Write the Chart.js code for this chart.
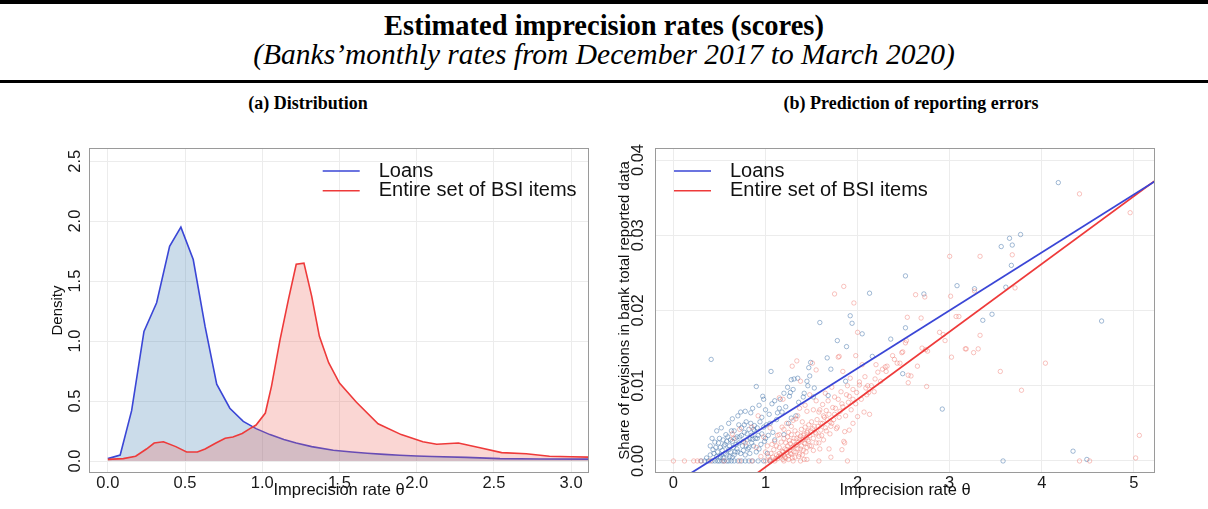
<!DOCTYPE html>
<html>
<head>
<meta charset="utf-8">
<title>Estimated imprecision rates (scores)</title>
<script src="https://cdn.jsdelivr.net/npm/chart.js@4.4.1/dist/chart.umd.min.js"></script>
<style>
  html, body { margin: 0; padding: 0; background: #fff; }
  body { width: 1208px; height: 509px; position: relative; overflow: hidden; font-family: 'Liberation Serif', 'Times New Roman', serif; color: #000; }
  .rule { position: absolute; left: 0; width: 1208px; background: #000; }
  .head { position: absolute; left: 0; width: 1208px; text-align: center; white-space: nowrap; line-height: 1; }
  .head.main { top: 12px; font-size: 28.5px; font-weight: bold; }
  .head.sub  { top: 40px; font-size: 29.5px; font-style: italic; }
  .panel-title { position: absolute; top: 94px; font-size: 18px; font-weight: bold; line-height: 1; white-space: nowrap; transform: translateX(-50%); }
  .chart-box { position: absolute; top: 120px; }
  .chart-box canvas { display: block; }
</style>
</head>
<body>
  <div class="rule" style="top:0; height:4px;"></div>
  <div class="head main">Estimated imprecision rates (scores)</div>
  <div class="head sub">(Banks’monthly rates from December 2017 to March 2020)</div>
  <div class="rule" style="top:80px; height:3px;"></div>

  <div class="panel-title" style="left:308px;">(a) Distribution</div>
  <div class="panel-title" style="left:911px;">(b) Prediction of reporting errors</div>

  <div class="chart-box" style="left:0; width:600px; height:389px;"><canvas id="density-chart" width="600" height="389"></canvas></div>
  <div class="chart-box" style="left:600px; width:608px; height:389px;"><canvas id="predict-chart" width="608" height="389"></canvas></div>

<script>
/* ═══════════════════════════════════════════════════════════════
   Estimated imprecision rates — density + prediction panels
   ═══════════════════════════════════════════════════════════════ */

// ── DATA ──────────────────────────────────────────────────────────
const seriesNames = ['Loans', 'Entire set of BSI items'];

// (a) density curves, theta vs density
const densTicksX = [0, 0.5, 1, 1.5, 2, 2.5, 3];
const densTicksY = [0, 0.5, 1, 1.5, 2, 2.5];
const loansDensX = [0.00, 0.08, 0.154, 0.234, 0.316, 0.40, 0.473, 0.553, 0.63, 0.705, 0.79, 0.877, 0.96, 1.05, 1.14, 1.22, 1.32, 1.46, 1.58, 1.68, 1.79, 1.89, 2.0, 2.1, 2.32, 2.54, 2.8, 3.2];
const loansDensY = [0.02, 0.05, 0.42, 1.08, 1.32, 1.79, 1.95, 1.68, 1.12, 0.64, 0.44, 0.33, 0.27, 0.22, 0.18, 0.15, 0.12, 0.09, 0.075, 0.065, 0.055, 0.048, 0.042, 0.038, 0.03, 0.02, 0.017, 0.015];
const bsiDensX = [0.0, 0.10, 0.18, 0.25, 0.30, 0.36, 0.44, 0.51, 0.58, 0.63, 0.70, 0.76, 0.81, 0.87, 0.92, 0.96, 1.02, 1.06, 1.115, 1.17, 1.22, 1.27, 1.32, 1.37, 1.43, 1.50, 1.61, 1.75, 1.90, 2.04, 2.13, 2.27, 2.41, 2.55, 2.71, 2.86, 3.0, 3.2];
const bsiDensY = [0.014, 0.02, 0.04, 0.10, 0.15, 0.16, 0.12, 0.075, 0.075, 0.10, 0.15, 0.19, 0.20, 0.23, 0.27, 0.30, 0.40, 0.625, 1.01, 1.35, 1.64, 1.65, 1.375, 1.04, 0.82, 0.65, 0.49, 0.31, 0.22, 0.16, 0.14, 0.15, 0.11, 0.07, 0.06, 0.04, 0.035, 0.03];

// (b) bank observations [theta, share of revisions]
const predTicksX = [0, 1, 2, 3, 4, 5];
const predTicksY = [0, 0.01, 0.02, 0.03, 0.04];
const loansPoints = [
  [0.30,0],[0.34,0],[0.38,0],[0.42,0],[0.45,0],[0.48,0],[0.50,0],[0.53,0],[0.55,0],[0.58,0],[0.60,0],[0.63,0],
  [0.66,0],[0.70,0],[0.74,0],[0.78,0],[0.82,0],[0.86,0],[0.92,0],[0.98,0],[1.05,0],[3.58,0],[4.49,0.0002],
  [0.36,0.0004],[0.40,0.0008],[0.43,0.0015],[0.45,0.0025],[0.47,0.0006],[0.48,0.0012],[0.50,0.0030],[0.51,0.0018],
  [0.52,0.0008],[0.54,0.0004],[0.55,0.0020],[0.56,0.0010],[0.57,0.0035],[0.58,0.0026],[0.60,0.0015],[0.61,0.0006],
  [0.62,0.0028],[0.63,0.0040],[0.64,0.0005],[0.65,0.0018],[0.66,0.0040],[0.67,0.0012],[0.68,0.0022],[0.69,0.0032],
  [0.70,0.0012],[0.71,0.0048],[0.72,0.0032],[0.73,0.0065],[0.74,0.0044],[0.75,0.0020],[0.76,0.0026],[0.77,0.0038],
  [0.78,0.0008],[0.79,0.0052],[0.80,0.0036],[0.81,0.0016],[0.82,0.0018],[0.83,0.0030],[0.84,0.0050],[0.84,0.0064],
  [0.85,0.0024],[0.86,0.0029],[0.87,0.0042],[0.88,0.0040],[0.88,0.0047],[0.90,0.0012],[0.90,0.0099],[0.91,0.0030],
  [0.92,0.0034],[0.94,0.0052],[0.95,0.0022],[0.96,0.0058],[0.97,0.0086],[0.98,0.0045],[0.98,0.0082],[1.00,0.0030],
  [1.02,0.0010],[1.04,0.0062],[1.05,0.0050],[1.06,0.0119],[1.07,0.0076],[1.08,0.0038],[1.10,0.0028],[1.12,0.0055],
  [1.15,0.0070],[1.16,0.0082],[1.18,0.0065],[1.20,0.0035],[1.22,0.0072],[1.25,0.0050],[1.26,0.0086],[1.27,0.0091],
  [1.28,0.0108],[1.28,0.0057],[1.30,0.0095],[1.31,0.0109],[1.33,0.0060],[1.35,0.0110],[1.36,0.0078],[1.41,0.0085],
  [1.42,0.0090],[1.45,0.0106],[1.46,0.0100],[1.47,0.0124],[1.48,0.0113],[1.49,0.0131],[1.52,0.0085],[1.53,0.0097],
  [1.59,0.0184],[1.67,0.0137],[1.68,0.0087],[1.71,0.0122],[1.78,0.0160],[1.87,0.0106],[1.88,0.0152],[1.92,0.0193],
  [1.94,0.0183],[2.05,0.0169],[2.13,0.0223],[2.16,0.0139],[2.36,0.0162],[2.49,0.0116],[2.52,0.0246],[2.52,0.0177],
  [2.72,0.0222],[2.92,0.0069],[3.08,0.0233],[3.27,0.0229],[3.36,0.0187],[3.46,0.0195],[3.56,0.0285],[3.61,0.0231],
  [3.65,0.0296],[3.67,0.0260],[3.68,0.0287],[3.77,0.0301],[4.18,0.0370],[4.34,0.0013],[4.65,0.0186],[0.41,0.0135],
  [0.40,0.0020],[0.42,0.0030],[0.44,0.0010],[0.46,0.0018],[0.49,0.0024],[0.51,0.0005],[0.53,0.0014],[0.54,0.0028],
  [0.56,0.0022],[0.58,0.0008],[0.59,0.0032],[0.61,0.0020],[0.62,0.0012],[0.64,0.0026],[0.66,0.0008],[0.67,0.0030],
  [0.69,0.0016],[0.71,0.0024],[0.73,0.0010],[0.74,0.0034],[0.76,0.0014],[0.77,0.0048],[0.79,0.0020],[0.80,0.0028],
  [0.82,0.0042],[0.83,0.0010],[0.85,0.0034],[0.87,0.0020],[0.89,0.0030],[0.91,0.0044],[0.93,0.0016],[0.96,0.0036],
  [0.99,0.0026],[1.01,0.0048],[1.03,0.0034],[0.47,0.0040],[0.52,0.0044],[0.60,0.0050],[0.64,0.0056],[0.70,0.0060],
  [0.78,0.0066],[0.86,0.0070],[0.93,0.0074],[1.00,0.0068],[1.10,0.0080],[1.13,0.0064],[1.20,0.0090],[1.24,0.0098]
];
const bsiPoints = [
  [0.00,0],[0.12,0],[0.22,0],[0.26,0],[0.30,0],[0.40,0],[0.55,0],[0.72,0],[0.85,0],[1.00,0],[1.05,0],[1.10,0],
  [1.20,0],[1.30,0],[1.38,0],[1.45,0.0002],[1.58,0],[1.89,0],[4.41,0],[4.52,0],[5.02,0.0004],[5.06,0.0034],
  [1.05,0.0002],[1.08,0.0005],[1.12,0.0008],[1.13,0.0003],[1.15,0.0010],[1.16,0.0005],[1.18,0.0013],[1.19,0.0002],
  [1.20,0.0008],[1.21,0.0016],[1.22,0.0004],[1.23,0.0011],[1.24,0.0020],[1.25,0.0007],[1.26,0.0014],[1.27,0.0023],
  [1.28,0.0009],[1.29,0.0018],[1.30,0.0026],[1.31,0.0012],[1.32,0.0005],[1.33,0.0021],[1.34,0.0030],[1.35,0.0016],
  [1.36,0.0025],[1.37,0.0009],[1.38,0.0033],[1.39,0.0020],[1.40,0.0028],[1.41,0.0014],[1.42,0.0036],[1.43,0.0023],
  [1.44,0.0031],[1.45,0.0018],[1.46,0.0040],[1.47,0.0026],[1.48,0.0034],[1.50,0.0020],[1.51,0.0043],[1.52,0.0030],
  [1.54,0.0038],[1.55,0.0024],[1.57,0.0046],[1.58,0.0033],[1.60,0.0041],[1.62,0.0050],[1.63,0.0028],[1.65,0.0044],
  [1.67,0.0055],[1.70,0.0036],[1.72,0.0050],[1.75,0.0062],[1.78,0.0045],[1.80,0.0058],
  [1.00,0.0012],[0.95,0.0006],[1.02,0.0020],[0.98,0.0032],[1.10,0.0026],[1.15,0.0035],[1.20,0.0042],[1.25,0.0038],
  [1.05,0.0044],[0.90,0.0018],[0.85,0.0045],[1.30,0.0054],[1.35,0.0060],[1.40,0.0052],[1.45,0.0066],[1.52,0.0068],
  [1.58,0.0065],[1.62,0.0075],[1.68,0.0080],[1.75,0.0085],[1.82,0.0092],[1.88,0.0088],[1.95,0.0095],[2.02,0.0105],
  [2.08,0.0112],[2.15,0.0100],[2.22,0.0118],[2.30,0.0125],[2.40,0.0135],[2.05,0.0128],[1.92,0.0110],[1.48,0.0088],
  [0.65,0.0030],[0.72,0.0042],[0.78,0.0024],[0.92,0.0060],[0.64,0.0036],[1.15,0.0084],[1.19,0.0082],[1.29,0.0126],
  [1.38,0.0106],[1.75,0.0222],[1.85,0.0232],[1.96,0.0210],[2.00,0.0171],[1.79,0.0138],[1.98,0.0140],[1.89,0.0100],
  [1.91,0.0086],[2.13,0.0062],[2.12,0.0091],[2.09,0.0097],[2.19,0.0109],[2.27,0.0122],[2.32,0.0126],[2.38,0.0140],
  [2.48,0.0144],[2.54,0.0191],[1.51,0.0130],[1.34,0.0133],[1.55,0.0121],[1.84,0.0119],[1.69,0.0016],[1.42,0.0002],
  [1.86,0.0024],[1.80,0.0139],[2.07,0.0065],[1.99,0.0091],[1.95,0.0082],[1.90,0.0078],[1.83,0.0076],[1.79,0.0082],
  [1.73,0.0071],[1.66,0.0067],[1.59,0.0068],[1.63,0.0060],[1.70,0.0052],[1.77,0.0043],[1.86,0.0039],[1.85,0.0026],
  [1.83,0.0015],[1.71,0.0005],[1.59,0.0016],[1.91,0.0041],[1.95,0.0050],[2.00,0.0059],[2.02,0.0101],[2.11,0.0100],
  [2.20,0.0128],[2.25,0.0106],[2.31,0.0119],[2.43,0.0130],[2.49,0.0145],[2.52,0.0157],[2.55,0.0114],[2.55,0.0104],
  [2.65,0.0126],[2.70,0.0150],[2.74,0.0148],[2.75,0.0099],
  [4.41,0.0355],[4.96,0.0330],[3.00,0.0272],[3.33,0.0272],[3.68,0.0274],[2.63,0.0221],[2.73,0.0218],[3.01,0.0219],
  [3.27,0.0226],[3.71,0.0230],[2.69,0.0190],[3.07,0.0192],[3.10,0.0192],[2.89,0.0171],[2.93,0.0168],[3.33,0.0167],
  [2.95,0.0160],[3.18,0.0149],[3.31,0.0149],[3.26,0.0144],[3.02,0.0138],[2.58,0.0113],[3.55,0.0119],[4.04,0.0130],
  [3.78,0.0094],[2.46,0.0130],[2.76,0.0146],[2.53,0.0160],[3.17,0.0149],
  [1.06,0.0010],[1.09,0.0015],[1.11,0.0003],[1.12,0.0020],[1.14,0.0006],[1.15,0.0018],[1.17,0.0008],[1.17,0.0025],
  [1.19,0.0012],[1.20,0.0030],[1.21,0.0005],[1.22,0.0024],[1.23,0.0015],[1.24,0.0032],[1.25,0.0002],[1.26,0.0027],
  [1.27,0.0010],[1.28,0.0035],[1.29,0.0004],[1.30,0.0019],[1.31,0.0030],[1.32,0.0040],[1.33,0.0012],[1.34,0.0022],
  [1.35,0.0036],[1.36,0.0006],[1.37,0.0029],[1.38,0.0016],[1.39,0.0042],[1.40,0.0008],[1.41,0.0034],[1.42,0.0024],
  [1.43,0.0045],[1.44,0.0012],[1.45,0.0038],[1.46,0.0028],[1.47,0.0048],[1.48,0.0020],[1.49,0.0040],[1.50,0.0052],
  [1.52,0.0014],[1.53,0.0046],[1.55,0.0036],[1.56,0.0055],[1.58,0.0024],[1.60,0.0050],[1.61,0.0034],[1.64,0.0058],
  [1.66,0.0040],[1.69,0.0062],[1.71,0.0046],[1.74,0.0055],[1.76,0.0070],[1.81,0.0066],[1.84,0.0072],[1.87,0.0060],
  [1.93,0.0068],[1.98,0.0076],[2.04,0.0082],[2.10,0.0088],[2.18,0.0092],[1.03,0.0006],[1.07,0.0022],[1.13,0.0034],
  [1.18,0.0045],[1.23,0.0050],[1.28,0.0046],[1.33,0.0056],[1.37,0.0070],[1.43,0.0074],[1.55,0.0080],[1.65,0.0090],
  [1.72,0.0098]
];
// fitted lines: [intercept, slope]
const loansFit = [-0.00308, 0.0077];
const bsiFit   = [-0.00981, 0.0090];

// ── STYLE ─────────────────────────────────────────────────────────
const BLUE = '#3a46d6';
const RED  = '#ee3a3a';
const SANS = "'Liberation Sans', Arial, sans-serif";
Chart.defaults.font.family = SANS;
Chart.defaults.color = '#1a1a1a';

const densRange = { xMin: -0.122, xMax: 3.116, yMin: -0.1, yMax: 2.61 };
const predRange = { xMin: -0.2,   xMax: 5.23,  yMin: -0.0016, yMax: 0.0416 };

// ── PLUGINS ───────────────────────────────────────────────────────
const frameBox = {
  id: 'frameBox',
  afterDraw(chart) {
    const { ctx, chartArea: a } = chart;
    ctx.save();
    ctx.strokeStyle = '#9a9a9a';
    ctx.lineWidth = 1;
    ctx.strokeRect(Math.round(a.left) + 0.5, Math.round(a.top) + 0.5, Math.round(a.width) - 1, Math.round(a.height) - 1);
    ctx.restore();
  }
};

function insideLegend(offsetX) {
  return {
    id: 'insideLegend',
    afterDraw(chart) {
      const { ctx, chartArea: a } = chart;
      const colors = [BLUE, RED];
      ctx.save();
      ctx.font = `20px ${SANS}`;
      ctx.textBaseline = 'middle';
      seriesNames.forEach((name, i) => {
        const y = a.top + 23 + i * 19.7;
        const x0 = a.left + offsetX;
        ctx.strokeStyle = colors[i];
        ctx.lineWidth = 1.5;
        ctx.beginPath();
        ctx.moveTo(x0, y);
        ctx.lineTo(x0 + 37, y);
        ctx.stroke();
        ctx.fillStyle = '#111';
        ctx.fillText(name, x0 + 56, y);
      });
      ctx.restore();
    }
  };
}

// ── SCALES ────────────────────────────────────────────────────────
function xAxis(range, tickList, digits) {
  return {
    type: 'linear',
    min: range.xMin, max: range.xMax,
    afterBuildTicks: s => { s.ticks = tickList.map(v => ({ value: v })); },
    afterFit: s => { s.height = 36; },
    grid: { color: '#ececec', drawTicks: false },
    border: { display: false },
    ticks: { autoSkip: false, maxRotation: 0, padding: 1, font: { size: 16.5 }, callback: v => v.toFixed(digits) },
    title: { display: true, text: 'Imprecision rate θ', font: { size: 16.5 }, color: '#111', padding: { top: 0, bottom: 9 } },
  };
}

function yAxis(range, tickList, digits, width, tickPad, title, titlePad) {
  return {
    type: 'linear',
    min: range.yMin, max: range.yMax,
    afterBuildTicks: s => { s.ticks = tickList.map(v => ({ value: v })); },
    afterFit: s => { s.width = width; },
    grid: { color: '#ececec', drawTicks: false },
    border: { display: false },
    ticks: { minRotation: 90, maxRotation: 90, crossAlign: 'center', padding: tickPad, font: { size: 16.5 }, callback: v => v.toFixed(digits) },
    title: { display: true, text: title, font: { size: 15 }, color: '#111', padding: { top: titlePad, bottom: 0 } },
  };
}

// ── (a) DISTRIBUTION ──────────────────────────────────────────────
new Chart(document.getElementById('density-chart'), {
  type: 'line',
  data: {
    datasets: [
      {
        label: seriesNames[1],
        data: bsiDensX.map((x, i) => ({ x, y: bsiDensY[i] })),
        borderColor: RED, backgroundColor: 'rgba(234,96,86,0.26)',
        borderWidth: 1.6, fill: 'origin', pointRadius: 0, tension: 0,
      },
      {
        label: seriesNames[0],
        data: loansDensX.map((x, i) => ({ x, y: loansDensY[i] })),
        borderColor: BLUE, backgroundColor: 'rgba(70,130,180,0.28)',
        borderWidth: 1.6, fill: 'origin', pointRadius: 0, tension: 0,
      },
    ],
  },
  options: {
    responsive: false,
    animation: false,
    layout: { padding: { top: 28, right: 11, bottom: 0, left: 0 } },
    plugins: { legend: { display: false }, tooltip: { enabled: false } },
    scales: {
      x: xAxis(densRange, densTicksX, 1),
      y: yAxis(densRange, densTicksY, 1, 89, 2.5, 'Density', 49),
    },
  },
  plugins: [frameBox, insideLegend(233.7)],
});

// ── (b) PREDICTION OF REPORTING ERRORS ───────────────────────────
const fitLine = coef => [predRange.xMin, predRange.xMax].map(x => ({ x, y: coef[0] + coef[1] * x }));
const toXY = pts => pts.map(p => ({ x: p[0], y: p[1] }));

new Chart(document.getElementById('predict-chart'), {
  type: 'scatter',
  data: {
    datasets: [
      { label: seriesNames[0], data: fitLine(loansFit), showLine: true, borderColor: BLUE, borderWidth: 1.8, pointRadius: 0 },
      { label: seriesNames[1], data: fitLine(bsiFit), showLine: true, borderColor: RED, borderWidth: 1.8, pointRadius: 0 },
      { label: seriesNames[1], data: toXY(bsiPoints), pointRadius: 2.2, pointBorderWidth: 0.8,
        pointBorderColor: 'rgba(240,118,108,0.55)', pointBackgroundColor: 'rgba(0,0,0,0)' },
      { label: seriesNames[0], data: toXY(loansPoints), pointRadius: 2.2, pointBorderWidth: 0.8,
        pointBorderColor: 'rgba(65,115,170,0.62)', pointBackgroundColor: 'rgba(0,0,0,0)' },
    ],
  },
  options: {
    responsive: false,
    animation: false,
    layout: { padding: { top: 28, right: 53, bottom: 0, left: 0 } },
    plugins: { legend: { display: false }, tooltip: { enabled: false } },
    scales: {
      x: xAxis(predRange, predTicksX, 0),
      y: yAxis(predRange, predTicksY, 2, 55, 0, 'Share of revisions in bank total reported data', 16),
    },
  },
  plugins: [frameBox, insideLegend(19)],
});
</script>
</body>
</html>
